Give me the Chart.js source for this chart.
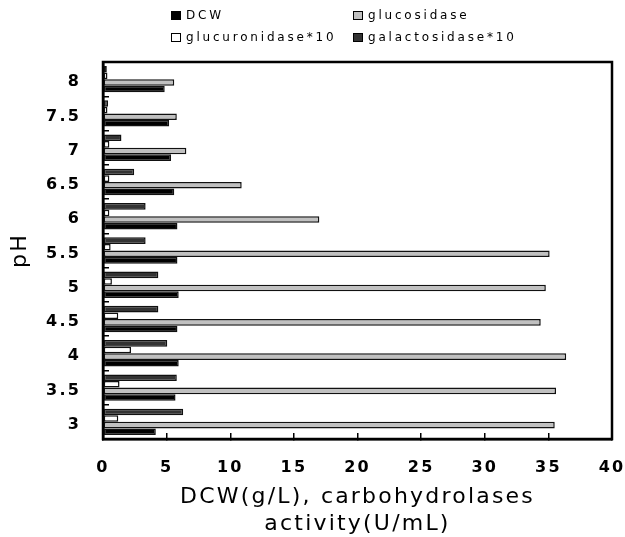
<!DOCTYPE html>
<html>
<head>
<meta charset="utf-8">
<script src="https://cdn.jsdelivr.net/npm/chart.js@4"></script>
<style>
  body { margin: 0; background: #fff; }
  #wrap { position: relative; width: 625px; height: 537px; }
  #legend { position: absolute; left: 0; top: 0; font-family: 'DejaVu Sans'; font-size: 12px; letter-spacing: 2.8px; color: #000; }
  .item { position: absolute; white-space: nowrap; line-height: 14px; }
  .box { display: inline-block; width: 10px; height: 9px; border: 1.5px solid #000; box-sizing: border-box; margin-right: 5px; vertical-align: -1px; }
</style>
</head>
<body>
<div id="wrap">
  <canvas id="chart" width="625" height="537"></canvas>
  <div id="legend"></div>
</div>
<script>
// pH categories, bottom to top
const phLabels = ['3', '3.5', '4', '4.5', '5', '5.5', '6', '6.5', '7', '7.5', '8'];

const dcw           = [4.15, 5.7, 5.95, 5.85, 5.95, 5.85, 5.85, 5.6, 5.35, 5.2, 4.85];
const glucosidase   = [35.5, 35.6, 36.4, 34.4, 34.8, 35.1, 17.0, 10.9, 6.55, 5.8, 5.6];
const glucuronidase = [1.2, 1.3, 2.2, 1.2, 0.7, 0.6, 0.5, 0.5, 0.5, 0.35, 0.35];
const galactosidase = [6.3, 5.8, 5.05, 4.35, 4.35, 3.35, 3.35, 2.45, 1.45, 0.4, 0.3];

const seriesNames  = ['DCW', 'glucosidase', 'glucuronidase*10', 'galactosidase*10'];
const seriesColors = ['#000000', '#c0c0c0', '#ffffff', '#333333'];

const xMin = 0, xMax = 40, xStep = 5;

// spaced-out lettering like the original
const spacing = {
  id: 'spacing',
  beforeLayout(chart) { chart.ctx.letterSpacing = '2.2px'; },
  beforeDraw(chart) { chart.ctx.letterSpacing = '2.2px'; }
};

// box around the plot area
const frame = {
  id: 'frame',
  afterDraw(chart) {
    const a = chart.chartArea, ctx = chart.ctx;
    ctx.save();
    ctx.strokeStyle = '#000';
    ctx.lineWidth = 2.5;
    ctx.strokeRect(a.left, a.top, a.right - a.left, a.bottom - a.top);
    ctx.restore();
  }
};

// chart.js puts dataset 0 at the top of each group, so feed them in reverse
// to get DCW at the bottom like the original
const values = [dcw, glucosidase, glucuronidase, galactosidase];
const datasets = values.map((v, i) => ({
  label: seriesNames[i],
  data: v,
  backgroundColor: seriesColors[i],
  borderColor: '#111',
  borderWidth: 1.5,
  borderSkipped: false,
  categoryPercentage: 0.77,
  barPercentage: 1.0
})).reverse();

const chart = new Chart(document.getElementById('chart'), {
  type: 'bar',
  data: { labels: phLabels, datasets: datasets },
  options: {
    indexAxis: 'y',
    responsive: false,
    animation: false,
    layout: { padding: { top: 62, right: 13, left: 4, bottom: 0 } },
    plugins: { legend: { display: false }, tooltip: { enabled: false } },
    scales: {
      x: {
        min: xMin, max: xMax,
        border: { color: '#000', width: 2.5 },
        grid: { drawOnChartArea: false, tickLength: -6, color: '#000', lineWidth: 1.5 },
        ticks: { stepSize: xStep, padding: 25, color: '#000', font: { family: 'DejaVu Sans', size: 16, weight: 'bold' } },
        title: {
          display: true,
          text: ['DCW(g/L), carbohydrolases', 'activity(U/mL)'],
          color: '#000',
          font: { family: 'DejaVu Sans', size: 22 },
          padding: { top: 4, bottom: 0 }
        },
        afterFit(s) { s.height = 98; s.paddingLeft = 0; s.paddingRight = 0; }
      },
      y: {
        reverse: true,
        border: { color: '#000', width: 2.5 },
        grid: { drawOnChartArea: false, tickLength: -6, color: '#000', lineWidth: 1.5 },
        ticks: { padding: 28, labelOffset: 3, color: '#000', font: { family: 'DejaVu Sans', size: 16, weight: 'bold' } },
        title: {
          display: true,
          text: 'pH',
          color: '#000',
          font: { family: 'DejaVu Sans', size: 22 },
          padding: { top: 3, bottom: 13 }
        },
        afterFit(s) { s.width = 99; }
      }
    }
  },
  plugins: [spacing, frame]
});

// two-column legend above the plot
const legendCols = [171, 353];
const legendRows = [15, 37];
const legend = document.getElementById('legend');
seriesNames.forEach((name, i) => {
  const item = document.createElement('div');
  item.className = 'item';
  item.style.left = legendCols[i % 2] + 'px';
  item.style.top = (legendRows[Math.floor(i / 2)] - 7) + 'px';
  item.innerHTML = '<span class="box" style="background:' + seriesColors[i] + '"></span>' + name;
  legend.appendChild(item);
});
</script>
</body>
</html>
